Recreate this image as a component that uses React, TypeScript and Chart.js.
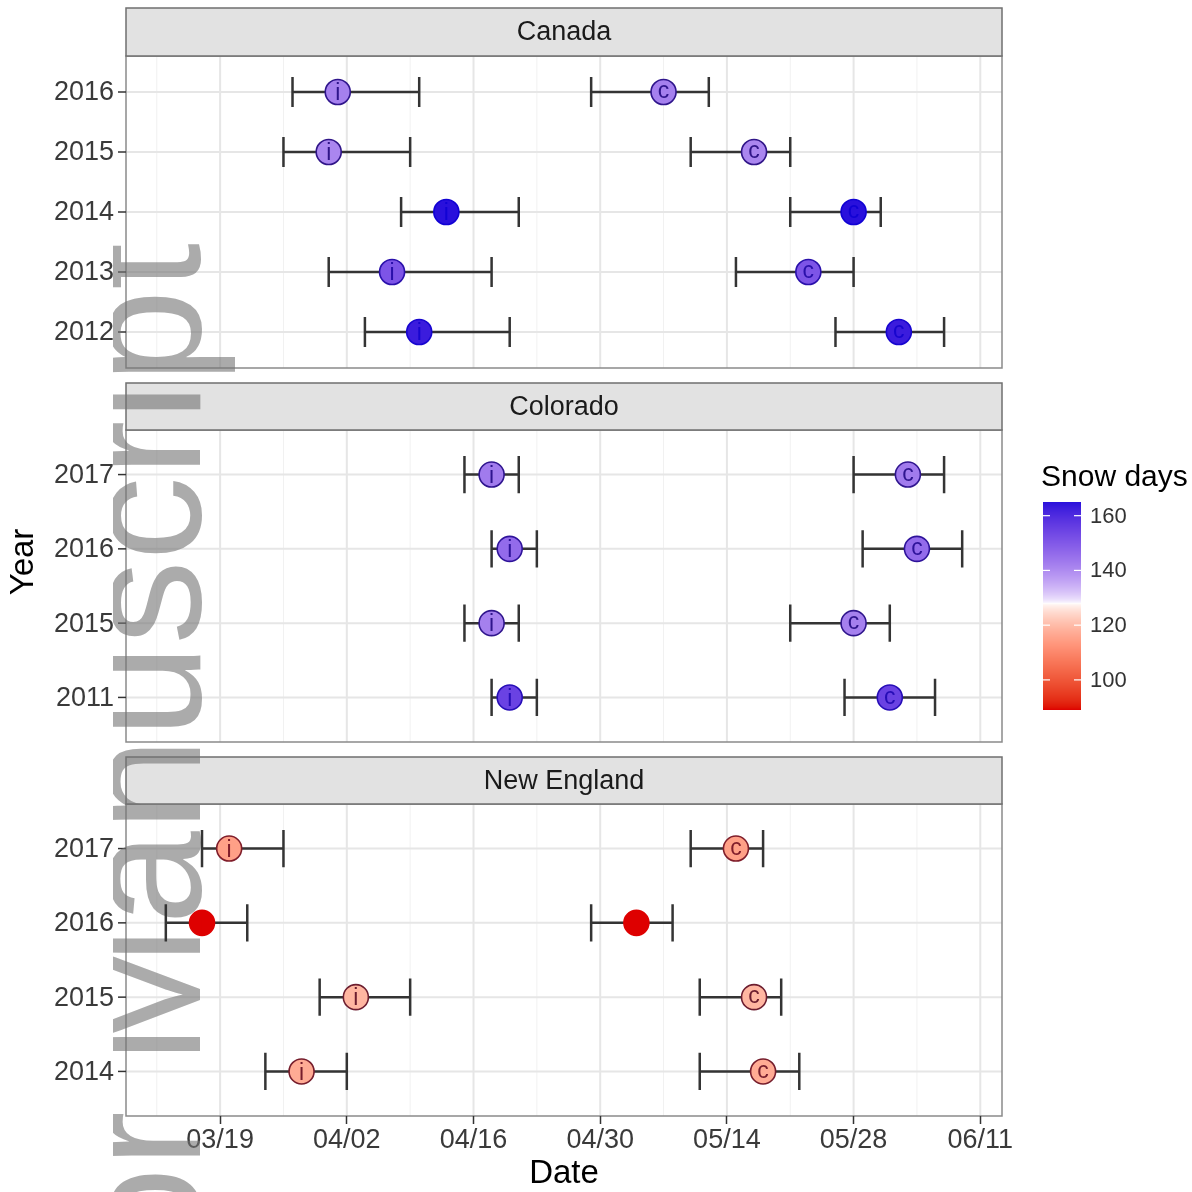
import React, { useEffect, useRef } from "react";
import { Chart, registerables } from "chart.js";

Chart.register(...registerables);

// ---------------- data (dates as day of year, non-leap year) ----------------
const REGION_NAMES = ["Canada", "Colorado", "New England"];

const CANADA_YEARS = ["2016", "2015", "2014", "2013", "2012"];
const CANADA_ONSET = [91, 90, 103, 97, 100];
const CANADA_ONSET_LOW = [86, 85, 98, 90, 94];
const CANADA_ONSET_HIGH = [100, 99, 111, 108, 110];
const CANADA_END = [127, 137, 148, 143, 153];
const CANADA_END_LOW = [119, 130, 141, 135, 146];
const CANADA_END_HIGH = [132, 141, 151, 148, 158];
const CANADA_SNOW_DAYS = [142, 141, 165, 151, 163];

const COLORADO_YEARS = ["2017", "2016", "2015", "2011"];
const COLORADO_ONSET = [108, 110, 108, 110];
const COLORADO_ONSET_LOW = [105, 108, 105, 108];
const COLORADO_ONSET_HIGH = [111, 113, 111, 113];
const COLORADO_END = [154, 155, 148, 152];
const COLORADO_END_LOW = [148, 149, 141, 147];
const COLORADO_END_HIGH = [158, 160, 152, 157];
const COLORADO_SNOW_DAYS = [143, 146, 142, 155];

const NE_YEARS = ["2017", "2016", "2015", "2014"];
const NE_ONSET = [79, 76, 93, 87];
const NE_ONSET_LOW = [76, 72, 89, 83];
const NE_ONSET_HIGH = [85, 81, 99, 92];
const NE_END = [135, 124, 137, 138];
const NE_END_LOW = [130, 119, 131, 131];
const NE_END_HIGH = [138, 128, 140, 142];
const NE_SNOW_DAYS = [115, 89, 119, 117];

const ONSET_LETTER = "i";
const END_LETTER = "c";

const TICK_DATES = ["03/19", "04/02", "04/16", "04/30", "05/14", "05/28", "06/11"];
const LEGEND_TICKS = [100, 120, 140, 160];
const SNOW_MIDPOINT = 128;

const LEGEND_TITLE = "Snow days";
const X_TITLE = "Date";
const Y_TITLE = "Year";
const WATERMARK = "Author Manuscript";

// ---------------- helpers ----------------
const MONTH_START = [0, 31, 59, 90, 120, 151, 181, 212, 243, 273, 304, 334];
function dayOfYear(md: string): number {
  const [m, d] = md.split("/").map(Number);
  return MONTH_START[m - 1] + d;
}
const TICK_DAYS = TICK_DATES.map(dayOfYear);
const MINOR_DAYS: number[] = [];
for (let i = 0; i < TICK_DAYS.length; i++) {
  MINOR_DAYS.push(TICK_DAYS[i] - (TICK_DAYS[1] - TICK_DAYS[0]) / 2);
}

const FACETS = [
  {
    name: REGION_NAMES[0], axisId: "yCA", years: CANADA_YEARS,
    onset: CANADA_ONSET, onsetLow: CANADA_ONSET_LOW, onsetHigh: CANADA_ONSET_HIGH,
    end: CANADA_END, endLow: CANADA_END_LOW, endHigh: CANADA_END_HIGH, snow: CANADA_SNOW_DAYS,
  },
  {
    name: REGION_NAMES[1], axisId: "yCO", years: COLORADO_YEARS,
    onset: COLORADO_ONSET, onsetLow: COLORADO_ONSET_LOW, onsetHigh: COLORADO_ONSET_HIGH,
    end: COLORADO_END, endLow: COLORADO_END_LOW, endHigh: COLORADO_END_HIGH, snow: COLORADO_SNOW_DAYS,
  },
  {
    name: REGION_NAMES[2], axisId: "yNE", years: NE_YEARS,
    onset: NE_ONSET, onsetLow: NE_ONSET_LOW, onsetHigh: NE_ONSET_HIGH,
    end: NE_END, endLow: NE_END_LOW, endHigh: NE_END_HIGH, snow: NE_SNOW_DAYS,
  },
];

const ALL_LOW = FACETS.flatMap((f) => [...f.onsetLow, ...f.endLow]);
const ALL_HIGH = FACETS.flatMap((f) => [...f.onsetHigh, ...f.endHigh]);
const DATA_MIN = Math.min(...ALL_LOW);
const DATA_MAX = Math.max(...ALL_HIGH);
const X_MIN = DATA_MIN - 0.05 * (DATA_MAX - DATA_MIN);
const X_MAX = DATA_MAX + 0.05 * (DATA_MAX - DATA_MIN);

const ALL_SNOW = FACETS.flatMap((f) => f.snow);
const SNOW_MIN = Math.min(...ALL_SNOW);
const SNOW_MAX = Math.max(...ALL_SNOW);

// ---------------- layout ----------------
const W = 1192;
const H = 1192;
const PANEL_X0 = 126;
const PANEL_X1 = 1002;
const AREA_TOP = 8;
const AREA_BOTTOM = 1116;
const BOXES = [
  { strip: 8, top: 56, bottom: 368 },
  { strip: 383, top: 430, bottom: 742 },
  { strip: 757, top: 804, bottom: 1116 },
];
const FONT = '"Liberation Sans", Arial, Helvetica, sans-serif';

// ---------------- colours (Lab interpolation) ----------------
function toLin(c: number) {
  c /= 255;
  return c <= 0.04045 ? c / 12.92 : Math.pow((c + 0.055) / 1.055, 2.4);
}
function fromLin(c: number) {
  const v = c <= 0.0031308 ? 12.92 * c : 1.055 * Math.pow(c, 1 / 2.4) - 0.055;
  return Math.round(Math.max(0, Math.min(1, v)) * 255);
}
function rgbToLab(rgb: number[]) {
  const R = toLin(rgb[0]), G = toLin(rgb[1]), B = toLin(rgb[2]);
  const X = (0.4124564 * R + 0.3575761 * G + 0.1804375 * B) / 0.95047;
  const Y = 0.2126729 * R + 0.7151522 * G + 0.072175 * B;
  const Z = (0.0193339 * R + 0.119192 * G + 0.9503041 * B) / 1.08883;
  const f = (t: number) => (t > 0.008856 ? Math.cbrt(t) : 7.787 * t + 16 / 116);
  const fx = f(X), fy = f(Y), fz = f(Z);
  return [116 * fy - 16, 500 * (fx - fy), 200 * (fy - fz)];
}
function labToRgb(lab: number[]) {
  const fy = (lab[0] + 16) / 116;
  const fx = fy + lab[1] / 500;
  const fz = fy - lab[2] / 200;
  const inv = (t: number) => (t * t * t > 0.008856 ? t * t * t : (t - 16 / 116) / 7.787);
  const X = inv(fx) * 0.95047, Y = inv(fy), Z = inv(fz) * 1.08883;
  const R = 3.2404542 * X - 1.5371385 * Y - 0.4985314 * Z;
  const G = -0.969266 * X + 1.8760108 * Y + 0.041556 * Z;
  const B = 0.0556434 * X - 0.2040259 * Y + 1.0572252 * Z;
  return [fromLin(R), fromLin(G), fromLin(B)];
}
function diverging(v: number, low: number[], mid: number[], high: number[]) {
  const dist = Math.max(SNOW_MAX - SNOW_MIDPOINT, SNOW_MIDPOINT - SNOW_MIN);
  let t = (v - SNOW_MIDPOINT) / (2 * dist) + 0.5;
  t = Math.max(0, Math.min(1, t));
  let a: number[], b: number[], s: number;
  if (t < 0.5) { a = rgbToLab(mid); b = rgbToLab(low); s = Math.pow((0.5 - t) / 0.5, 0.7); }
  else { a = rgbToLab(mid); b = rgbToLab(high); s = Math.pow((t - 0.5) / 0.5, 0.62); }
  const lab = [a[0] + (b[0] - a[0]) * s, a[1] + (b[1] - a[1]) * s, a[2] + (b[2] - a[2]) * s];
  const rgb = labToRgb(lab);
  return `rgb(${rgb[0]},${rgb[1]},${rgb[2]})`;
}
const LOW_RGB = [222, 0, 0];
const HIGH_RGB = [8, 0, 218];
const fillColor = (v: number) => diverging(v, LOW_RGB, [255, 255, 255], HIGH_RGB);
const inkColor = (v: number) => diverging(v, LOW_RGB, [40, 25, 60], HIGH_RGB);

// ---------------- plugin ----------------
const facetPlugin = {
  id: "facetDecor",
  beforeDraw(chart: any) {
    const ctx = chart.ctx as CanvasRenderingContext2D;
    const xs = chart.scales.x;
    ctx.save();
    ctx.fillStyle = "#ffffff";
    ctx.fillRect(0, 0, chart.width, chart.height);

    FACETS.forEach((f, k) => {
      const box = BOXES[k];
      const ys = chart.scales[f.axisId];
      const pw = PANEL_X1 - PANEL_X0;
      const ph = box.bottom - box.top;
      ctx.fillStyle = "#ffffff";
      ctx.fillRect(PANEL_X0, box.top, pw, ph);

      ctx.save();
      ctx.beginPath();
      ctx.rect(PANEL_X0, box.top, pw, ph);
      ctx.clip();
      ctx.strokeStyle = "#f1f1f1";
      ctx.lineWidth = 1;
      MINOR_DAYS.forEach((d) => {
        const px = xs.getPixelForValue(d);
        ctx.beginPath(); ctx.moveTo(px, box.top); ctx.lineTo(px, box.bottom); ctx.stroke();
      });
      ctx.strokeStyle = "#e6e6e6";
      ctx.lineWidth = 2;
      TICK_DAYS.forEach((d) => {
        const px = xs.getPixelForValue(d);
        ctx.beginPath(); ctx.moveTo(px, box.top); ctx.lineTo(px, box.bottom); ctx.stroke();
      });
      f.years.forEach((_, i) => {
        const py = ys.getPixelForValue(i);
        ctx.beginPath(); ctx.moveTo(PANEL_X0, py); ctx.lineTo(PANEL_X1, py); ctx.stroke();
      });
      ctx.restore();

      ctx.strokeStyle = "#8a8a8a";
      ctx.lineWidth = 1.5;
      ctx.strokeRect(PANEL_X0, box.top, pw, ph);

      // strip
      ctx.fillStyle = "#e2e2e2";
      ctx.fillRect(PANEL_X0, box.strip, pw, box.top - box.strip);
      ctx.strokeStyle = "#6f6f6f";
      ctx.strokeRect(PANEL_X0, box.strip, pw, box.top - box.strip);
      ctx.fillStyle = "#1a1a1a";
      ctx.font = `27px ${FONT}`;
      ctx.textAlign = "center";
      ctx.textBaseline = "middle";
      ctx.fillText(f.name, (PANEL_X0 + PANEL_X1) / 2, (box.strip + box.top) / 2 + 1);

      // y ticks
      ctx.textAlign = "right";
      ctx.fillStyle = "#3a3a3a";
      ctx.strokeStyle = "#333333";
      ctx.lineWidth = 1.5;
      f.years.forEach((yr, i) => {
        const py = ys.getPixelForValue(i);
        ctx.beginPath(); ctx.moveTo(PANEL_X0 - 8, py); ctx.lineTo(PANEL_X0, py); ctx.stroke();
        ctx.fillText(yr, PANEL_X0 - 12, py + 1);
      });
    });

    // axis titles
    ctx.fillStyle = "#000000";
    ctx.font = `33px ${FONT}`;
    ctx.textAlign = "center";
    ctx.textBaseline = "middle";
    ctx.fillText(X_TITLE, (PANEL_X0 + PANEL_X1) / 2, 1174);
    ctx.save();
    ctx.translate(24, (AREA_TOP + AREA_BOTTOM) / 2);
    ctx.rotate(-Math.PI / 2);
    ctx.fillText(Y_TITLE, 0, 0);
    ctx.restore();

    // legend
    const lx = 1043, lw = 38, lt = 502, lb = 710;
    ctx.textAlign = "left";
    ctx.font = `30px ${FONT}`;
    ctx.fillStyle = "#000000";
    ctx.fillText(LEGEND_TITLE, 1041, 478);
    for (let py = lt; py < lb; py++) {
      const v = SNOW_MAX - ((py + 0.5 - lt) / (lb - lt)) * (SNOW_MAX - SNOW_MIN);
      ctx.fillStyle = fillColor(v);
      ctx.fillRect(lx, py, lw, 1);
    }
    ctx.font = `22px ${FONT}`;
    ctx.fillStyle = "#333333";
    ctx.strokeStyle = "#ffffff";
    ctx.lineWidth = 1.2;
    LEGEND_TICKS.forEach((v) => {
      const py = lt + ((SNOW_MAX - v) / (SNOW_MAX - SNOW_MIN)) * (lb - lt);
      ctx.beginPath(); ctx.moveTo(lx, py); ctx.lineTo(lx + 7, py); ctx.stroke();
      ctx.beginPath(); ctx.moveTo(lx + lw - 7, py); ctx.lineTo(lx + lw, py); ctx.stroke();
      ctx.fillText(String(v), 1090, py + 1);
    });
    ctx.restore();
  },
  beforeDatasetsDraw(chart: any) {
    const ctx = chart.ctx as CanvasRenderingContext2D;
    const xs = chart.scales.x;
    // watermark
    ctx.save();
    ctx.beginPath();
    ctx.rect(113, 0, W - 113, H);
    ctx.clip();
    ctx.translate(200, 243);
    ctx.rotate(-Math.PI / 2);
    ctx.font = `168px ${FONT}`;
    ctx.textAlign = "right";
    ctx.textBaseline = "alphabetic";
    ctx.fillStyle = "rgba(115,115,115,0.6)";
    ctx.fillText(WATERMARK, 0, 0);
    ctx.restore();

    // error bars
    ctx.save();
    ctx.strokeStyle = "#343434";
    ctx.lineWidth = 2.5;
    FACETS.forEach((f) => {
      const ys = chart.scales[f.axisId];
      f.years.forEach((_, i) => {
        const y0 = ys.getPixelForValue(i);
        const ya = ys.getPixelForValue(i - 0.25);
        const yb = ys.getPixelForValue(i + 0.25);
        const pairs = [[f.onsetLow[i], f.onsetHigh[i]], [f.endLow[i], f.endHigh[i]]];
        pairs.forEach(([lo, hi]) => {
          const xa = xs.getPixelForValue(lo);
          const xb = xs.getPixelForValue(hi);
          ctx.beginPath();
          ctx.moveTo(xa, y0); ctx.lineTo(xb, y0);
          ctx.moveTo(xa, ya); ctx.lineTo(xa, yb);
          ctx.moveTo(xb, ya); ctx.lineTo(xb, yb);
          ctx.stroke();
        });
      });
    });
    ctx.restore();
  },
  afterDatasetsDraw(chart: any) {
    const ctx = chart.ctx as CanvasRenderingContext2D;
    ctx.save();
    const size = 23;
    ctx.font = `${size}px ${FONT}`;
    ctx.textAlign = "center";
    ctx.textBaseline = "alphabetic";
    FACETS.forEach((f, k) => {
      const meta = chart.getDatasetMeta(k);
      const n = f.years.length;
      meta.data.forEach((el: any, j: number) => {
        const isOnset = j < n;
        const letter = isOnset ? ONSET_LETTER : END_LETTER;
        const v = f.snow[j % n];
        ctx.fillStyle = inkColor(v);
        const off = isOnset ? 0.36 * size : 0.27 * size;
        ctx.fillText(letter, el.x, el.y + off);
      });
    });
    ctx.restore();
  },
};

// ---------------- component ----------------
export default function App() {
  const ref = useRef<HTMLCanvasElement | null>(null);

  useEffect(() => {
    const canvas = ref.current;
    if (!canvas) return;

    const yScales: any = {};
    FACETS.forEach((f, k) => {
      const box = BOXES[k];
      const units = f.years.length - 1 + 1.2;
      const perPx = units / (box.bottom - box.top);
      const min = -0.6 + (AREA_TOP - box.top) * perPx;
      const max = -0.6 + (AREA_BOTTOM - box.top) * perPx;
      yScales[f.axisId] = {
        type: "linear", axis: "y", position: "left", display: false,
        reverse: true, min, max,
      };
    });

    const datasets = FACETS.map((f) => {
      const data = [
        ...f.onset.map((v, i) => ({ x: v, y: i })),
        ...f.end.map((v, i) => ({ x: v, y: i })),
      ];
      const snowBoth = [...f.snow, ...f.snow];
      return {
        type: "scatter" as const,
        label: f.name,
        xAxisID: "x",
        yAxisID: f.axisId,
        data,
        pointRadius: 12.5,
        pointHoverRadius: 12.5,
        pointBorderWidth: 1.6,
        pointBackgroundColor: snowBoth.map(fillColor),
        pointBorderColor: snowBoth.map(inkColor),
        showLine: false,
      };
    });

    const chart = new Chart(canvas, {
      type: "scatter",
      data: { datasets },
      options: {
        responsive: false,
        animation: false,
        devicePixelRatio: 1,
        events: [],
        layout: {
          autoPadding: false,
          padding: { left: PANEL_X0, right: W - PANEL_X1, top: AREA_TOP, bottom: 0 },
        },
        plugins: { legend: { display: false }, tooltip: { enabled: false } },
        scales: {
          x: {
            type: "linear",
            position: "bottom",
            min: X_MIN,
            max: X_MAX,
            afterBuildTicks: (s: any) => {
              s.ticks = TICK_DAYS.map((v) => ({ value: v }));
            },
            afterFit: (s: any) => {
              s.height = H - AREA_BOTTOM;
            },
            ticks: {
              autoSkip: false,
              maxRotation: 0,
              padding: 0,
              color: "#3a3a3a",
              font: { size: 27, family: FONT },
              callback: (v: any) => {
                const idx = TICK_DAYS.indexOf(Number(v));
                return idx >= 0 ? TICK_DATES[idx] : "";
              },
            },
            grid: {
              display: true,
              drawOnChartArea: false,
              drawTicks: true,
              tickLength: 8,
              tickColor: "#333333",
              tickWidth: 1.5,
            },
            border: { display: false },
          },
          ...yScales,
        },
      } as any,
      plugins: [facetPlugin as any],
    });
    return () => chart.destroy();
  }, []);

  return (
    <div style={{ position: "absolute", left: 0, top: 0, width: W, height: H, background: "#ffffff" }}>
      <canvas ref={ref} width={W} height={H} style={{ display: "block", width: W, height: H }} />
    </div>
  );
}
